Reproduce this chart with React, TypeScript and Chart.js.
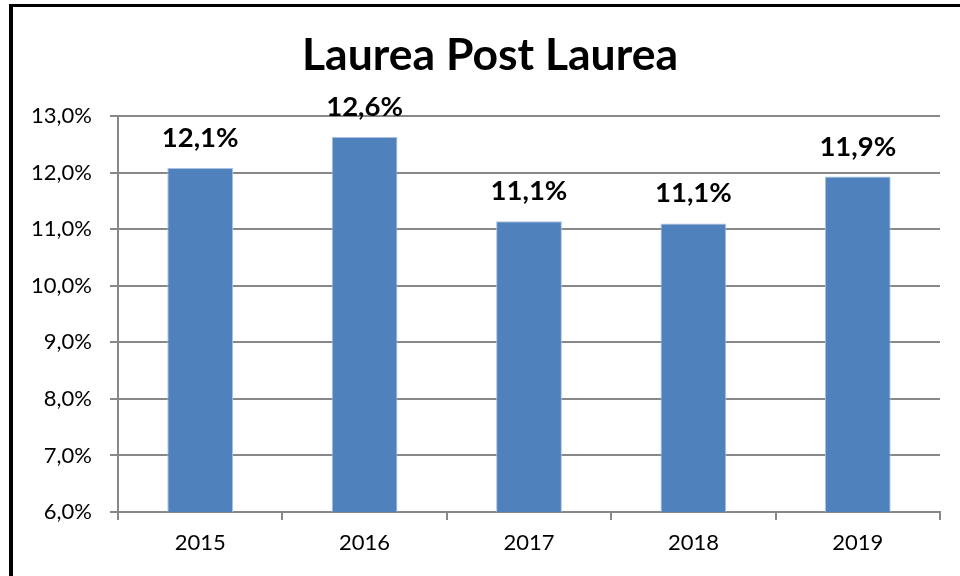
import React, { useEffect, useRef } from "react";
import { Chart, registerables } from "chart.js";

Chart.register(...registerables);

const TITLE = "Laurea Post Laurea";
const categories = ["2015", "2016", "2017", "2018", "2019"];
const values = [12.08, 12.63, 11.14, 11.1, 11.93];
const yMin = 6;
const yMax = 13;
const yStep = 1;

const FONT = "Lato, 'Open Sans', sans-serif";
const fmt = (v: number) => v.toFixed(1).replace(".", ",") + "%";

const extras = {
  id: "extras",
  afterDraw(chart: any) {
    const ctx = chart.ctx;
    ctx.save();
    // frame
    ctx.fillStyle = "#000";
    ctx.fillRect(9, 4, 960, 3);
    ctx.fillRect(9, 4, 4, 576);
    // title
    ctx.font = `bold 44.5px ${FONT}`;
    ctx.textAlign = "center";
    ctx.textBaseline = "alphabetic";
    ctx.fillText(TITLE, 490, 70);
    // data labels
    const meta = chart.getDatasetMeta(0);
    ctx.font = `bold 27.5px ${FONT}`;
    meta.data.forEach((bar: any, i: number) => {
      ctx.fillText(fmt(values[i]), bar.x, bar.y - 21);
    });
    ctx.restore();
  },
};

export default function App() {
  const ref = useRef<HTMLCanvasElement>(null);
  useEffect(() => {
    document.body.style.margin = "0";
    const chart = new Chart(ref.current!, {
      type: "bar",
      data: {
        labels: categories,
        datasets: [
          {
            data: values,
            backgroundColor: "#4F81BD",
            borderColor: "#A9C1E0",
            borderWidth: 1,
            barPercentage: 0.4,
            categoryPercentage: 1,
          },
        ],
      },
      options: {
        responsive: false,
        animation: false,
        layout: { padding: { left: 0, top: 116, right: 20, bottom: 0 } },
        plugins: { legend: { display: false }, tooltip: { enabled: false }, title: { display: false } },
        scales: {
          x: {
            offset: true,
            grid: { drawOnChartArea: false, tickLength: 8, color: "#888", lineWidth: 2 },
            border: { color: "#888", width: 2 },
            ticks: { color: "#000", font: { family: FONT, size: 22 }, padding: 10 },
            afterFit: (s: any) => { s.height = 64; },
          },
          y: {
            min: yMin,
            max: yMax,
            ticks: {
              stepSize: yStep,
              color: "#000",
              font: { family: FONT, size: 22 },
              padding: 18,
              callback: (v: any) => fmt(Number(v)),
            },
            grid: { color: "#888", lineWidth: 2, tickLength: 8 },
            border: { color: "#888", width: 2 },
            afterFit: (s: any) => { s.width = 118; },
          },
        },
      },
      plugins: [extras],
    });
    return () => chart.destroy();
  }, []);
  return (
    <div style={{ position: "absolute", left: 0, top: 0, width: 960, height: 576, background: "#fff" }}>
      <canvas ref={ref} width={960} height={576} />
    </div>
  );
}
